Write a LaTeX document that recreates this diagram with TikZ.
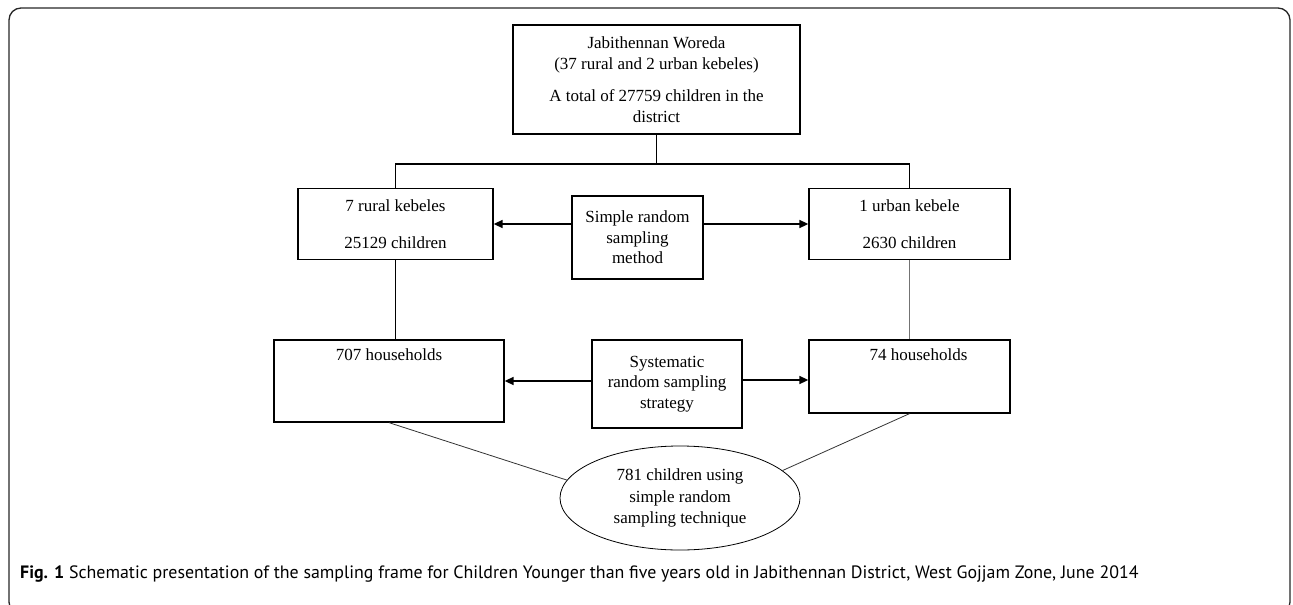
\documentclass[tikz,border=0pt]{standalone}
\usepackage{fontspec}
\setmainfont{Liberation Serif}
\newfontfamily\capfont{PT Sans}
\usetikzlibrary{arrows.meta,positioning,shapes.geometric}
\tikzset{
  stage/.style={
    draw, line width=1.3pt, align=center, inner sep=0pt,
    font=\fontsize{17}{20.5}\selectfont
  },
  method/.style={stage},
  result/.style={
    draw, ellipse, line width=0.8pt, align=center, inner sep=0pt,
    minimum width=240pt, minimum height=104pt,
    font=\fontsize{17}{21.5}\selectfont
  },
  link/.style={line width=1.3pt},
  thinlink/.style={line width=0.8pt, black!80},
  arrow/.style={-{Triangle[length=9pt,width=8pt]}, line width=1.6pt},
}

\begin{document}
\begin{tikzpicture}[x=1pt,y=-1pt]
    \useasboundingbox (0,0) rectangle (1293,605);
    % outer frame
    \draw[line width=1.3pt, black!85, rounded corners=12pt] (9,8) rectangle (1290,614);

    \node[stage, minimum width=287pt, minimum height=109pt] (woreda) at (656.5,79.5)
        {Jabithennan Woreda\\(37 rural and 2 urban kebeles)\\[12pt]A total of 27759 children in the\\district};
    \node[stage, minimum width=195pt, minimum height=71pt] (rural) at (395.5,224)
        {7 rural kebeles\\[16pt]25129 children};
    \node[method, minimum width=131pt, minimum height=83pt] (srs) at (637.5,237.5)
        {Simple random\\sampling\\method};
    \node[stage, minimum width=201pt, minimum height=71pt] (urban) at (909.5,224)
        {1 urban kebele\\[16pt]2630 children};

    \node[stage, minimum width=230pt, text height=20pt, text depth=62pt] (hhrural) at (389,381)
        {707 households};
    \node[method, minimum width=150pt, minimum height=88pt] (sys) at (667,384)
        {Systematic\\random sampling\\strategy};
    \node[stage, minimum width=201pt, text height=20pt, text depth=53pt] (hhurban) at (909.5,376.5)
        {\hspace{18pt}74 households};

    \node[result] (child) at (680,498)
        {781 children using\\simple random\\sampling technique};

    \node[anchor=base west, inner sep=0pt, font=\capfont\fontsize{17.9}{21}\selectfont] (caption) at (20,578)
        {\textbf{Fig. 1} Schematic presentation of the sampling frame for Children Younger than five years old in Jabithennan District, West Gojjam Zone, June 2014};

    % tree from the woreda
    \coordinate (split) at (woreda.south |- 0,164);
    \draw[link] (woreda.south) -- (split);
    \draw[link] (split) -| (rural.north);
    \draw[link] (split) -| (urban.north);

    \draw[arrow] (srs.west |- rural.east) -- (rural.east);
    \draw[arrow] (srs.east |- urban.west) -- (urban.west);

    \draw[link] (rural.south) -- (rural.south |- hhrural.north);
    \draw[link, black!55] (urban.south) -- (urban.south |- hhurban.north);

    \draw[arrow] (sys.west |- hhrural.east) -- (hhrural.east);
    \draw[arrow] ([yshift=4pt]sys.east) -- ([yshift=4pt]sys.east -| hhurban.west);

    \draw[thinlink] (hhrural.south) -- (child.171);
    \draw[thinlink] (hhurban.south) -- (child.15);
\end{tikzpicture}
\end{document}
